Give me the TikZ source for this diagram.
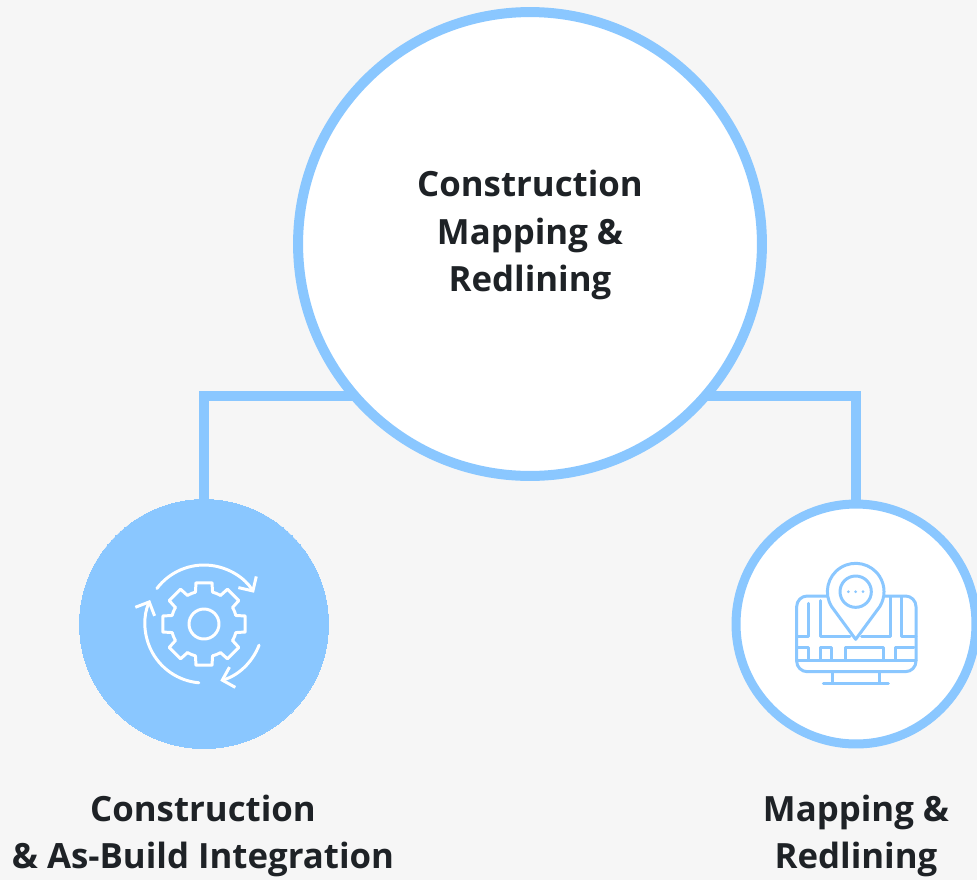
\documentclass[tikz,border=0pt]{standalone}
\usepackage{fontspec}
\setmainfont{Open Sans}
\usetikzlibrary{arrows.meta,backgrounds}
\definecolor{skyblue}{HTML}{8AC7FF}
\definecolor{pagegray}{HTML}{F6F6F6}
\definecolor{inkgray}{HTML}{1E2226}
\tikzset{
  bubble/.style={circle,draw=skyblue,fill=white,inner sep=0pt},
  link/.style={draw=skyblue,line width=0.2cm},
  caption/.style={align=center,text=inkgray,font=\fontsize{19.8}{27.2}\selectfont\bfseries},
  iconline/.style={line width=1.7pt,line cap=round,line join=round},
  roundarrow/.style={-{Straight Barb[length=6pt,width=12pt]}},
}
\begin{document}
\begin{tikzpicture}[yscale=-1,x=0.02cm,y=0.02cm] % flip y axis, units are pixels
      \useasboundingbox (0,0) rectangle (977,880);
      \node[bubble,line width=0.2cm,minimum size=9.28cm] (big) at (530,244) {};
      \node[bubble,fill=skyblue,line width=0pt,minimum size=4.98cm] (left) at (204,624) {};
      \node[bubble,line width=0.18cm,minimum size=4.8cm] (right) at (856,624) {};
      \begin{scope}[on background layer]
        \fill[pagegray] (0,0) rectangle (977,880);
        \draw[link] ([xshift=0.4cm]big.220) -| (left.north);
        \draw[link] ([xshift=-0.4cm]big.320) -| (right.north);
      \end{scope}
      \node[caption] (bigtext) at (530,235) {Construction\\Mapping \&\\Redlining};
      \node[caption] (lefttext) at (203,836) {Construction\\\& As-Build Integration};
      \node[caption] (righttext) at (856,836) {Mapping \&\\Redlining};
      % gear with three arrows
      \begin{scope}[shift={(left.center)},white,iconline]
        \draw[roundarrow] (-143:59) arc (-143:-32:59);
        \draw[roundarrow] (21:59) arc (21:74:59);
        \draw[roundarrow] (95:59) arc (95:204:59);
        \draw (0,0) circle (15);
        \foreach \a in {0,45,...,315}{
            \draw (\a-15:33) -- (\a-11:42) -- (\a+11:42) -- (\a+15:33) arc (\a+15:\a+30:33);
          }
      \end{scope}
      % monitor with map and pin
      \begin{scope}[shift={(770,540)},scale=1/3,skyblue,iconline]
        \draw[rounded corners=6pt] (80,168) rectangle (438,395);
        \draw (80,360) -- (438,360);
        \draw (188,395) -- (188,430) (328,395) -- (328,430) (160,430) -- (355,430);
        \draw (80,290) -- (115,290) -- (115,190);
        \draw (150,182) -- (150,290) -- (240,290);
        \draw (275,290) -- (362,290) -- (362,172);
        \draw (395,172) -- (395,290) -- (438,290);
        \draw (85,323) -- (115,323) -- (115,360);
        \draw (150,360) -- (150,323) -- (185,323) -- (185,360);
        \draw (225,360) -- (225,323) -- (340,323) -- (340,360);
        \draw (375,360) -- (375,323) -- (432,323);
        \draw[fill=white] (257,298) -- (185,200) arc (148:392:85) -- cycle;
        \draw (257,155) circle (47);
        \foreach \x in {235,257,279}{
            \fill (\x,155) circle (4.5);
          }
      \end{scope}
    \end{tikzpicture}
\end{document}
